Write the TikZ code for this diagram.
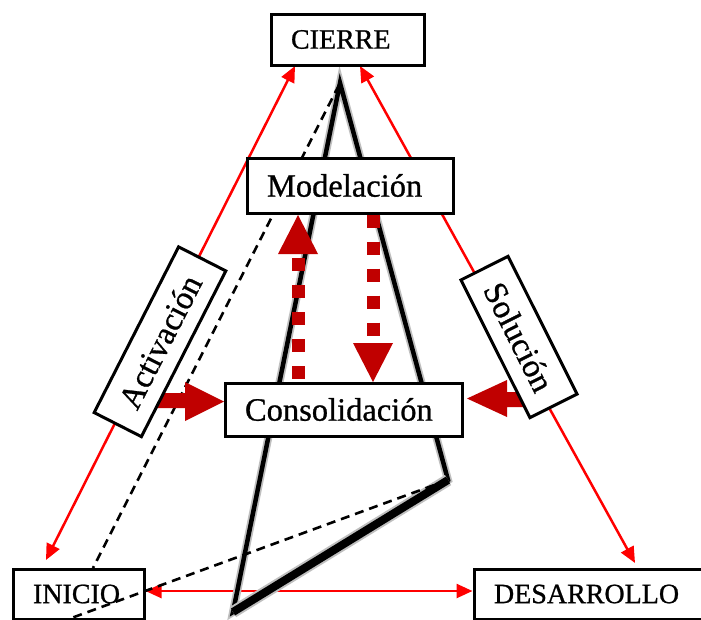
\documentclass[tikz,border=0pt]{standalone}
\usepackage{fontspec}
\setmainfont[FakeBold=0.8]{Liberation Serif}
\usetikzlibrary{arrows.meta,calc}
\definecolor{dred}{HTML}{C00000}
\pgfdeclarelayer{bg}
\pgfsetlayers{bg,main}
\begin{document}
\begin{tikzpicture}[x=1pt,y=-1pt,
  box/.style={draw,line width=3pt,fill=white,inner xsep=20pt,inner ysep=0pt,align=left},
  rbox/.style={draw,line width=3pt,fill=white,inner sep=0pt},
  capfont/.style={font=\fontsize{28}{32}\selectfont},
  lowfont/.style={font=\fontsize{32.5}{36}\selectfont},
  rotfont/.style={font=\fontsize{33}{36}\selectfont},
  redline/.style={red,line width=2.5pt,{Triangle[length=16pt,width=14pt]}-{Triangle[length=16pt,width=14pt]}},
  dashline/.style={black,line width=2.6pt,dash pattern=on 9pt off 6pt},
  dotshaft/.style={dred,line width=13pt,dash pattern=on 13pt off 14pt,line cap=butt},
  bigarrow/.style={fill=dred},
  tri/.style={line join=miter}]
\useasboundingbox (0,0) rectangle (701,619);
\clip (0,0) rectangle (701,619);

% named points
\coordinate (cA) at (295,66);
\coordinate (iA) at (46,560);
\coordinate (cB) at (360,66);
\coordinate (dB) at (635,563);
\coordinate (hline) at (0,591);
\coordinate (apx) at (340,83);
\coordinate (bot) at (233,612);
\coordinate (rgt) at (448,480);
\coordinate (dA) at (339,85);
\coordinate (dAend) at (93,568);
\coordinate (dBend) at (66,620);
\coordinate (upx) at (298,0);
\coordinate (dnx) at (373,0);

% boxes
\node[box,capfont,text width=113pt,minimum height=51pt] (cierre) at (347.5,39.5) {CIERRE};
\node[box,lowfont,text width=166pt,minimum height=55pt] (model) at (350,185.5) {Modelación};
\node[box,lowfont,text width=197pt,minimum height=53pt] (cons) at (343.5,409.5) {Consolidación};
\node[box,capfont,text width=91pt,minimum height=50pt] (inicio) at (78.5,594) {INICIO};
\node[box,capfont,text width=210pt,minimum height=50pt] (desa) at (599,594) {DESARROLLO};
\node[rbox,rotfont,rotate=63,minimum width=186pt,minimum height=53pt] (act) at (160,341.75) {Activación};
\node[rbox,rotfont,rotate=-63.4,minimum width=154pt,minimum height=52.7pt] (sol) at (519,337) {Solución};

\begin{pgfonlayer}{bg}
\fill[white] (0,0) rectangle (701,619);
% red connectors
\draw[redline] (cA) -- (iA);
\draw[redline] (cB) -- (dB);
\draw[redline] (inicio.east |- hline) -- (desa.west |- hline);
% black triangle
\draw[black!25,line width=8pt,tri] (apx) -- (rgt) -- (bot) -- cycle;
\draw[black,line width=4.5pt,tri] (apx) -- (rgt) -- (bot) -- cycle;
\draw[black!25,line width=12pt] (bot) -- (rgt);
\draw[black,line width=8pt] (bot) -- (rgt);
% dashed line from apex to INICIO
\draw[dashline] (dA) -- (dAend);
% thick red arrows towards Consolidación
\fill[bigarrow] (150,393) -- (185,393) -- (185,382) -- (224,401.5) -- (185,421) -- (185,408) -- (150,408) -- cycle;
\fill[bigarrow] (530,392) -- (507,392) -- (507,380) -- (467,398.5) -- (507,417) -- (507,407) -- (530,407) -- cycle;
\end{pgfonlayer}

% dotted arrows between Consolidación and Modelación
\draw[dotshaft] (cons.north -| upx) ++(0,-3) -- (upx |- 0,254);
\fill[dred] (278,254) -- (298,215) -- (318,254) -- cycle;
\draw[dotshaft] (model.south -| dnx) -- (dnx |- 0,343);
\fill[dred] (353,343) -- (373,382) -- (393,343) -- cycle;

% dashed line over INICIO
\draw[dashline] (rgt) -- (dBend);
\end{tikzpicture}
\end{document}
